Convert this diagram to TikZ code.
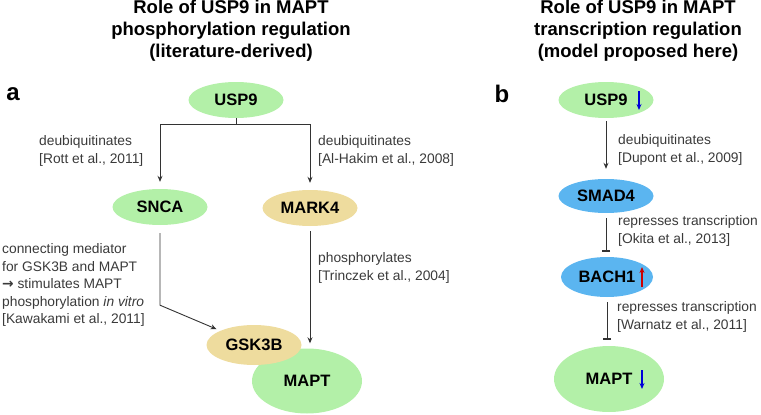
\documentclass[tikz,border=0pt]{standalone}
\usepackage{fontspec}
\setmainfont{Liberation Sans}
\newfontfamily\arrowfont{DejaVu Sans}
\usepackage{tikz}
\usetikzlibrary{arrows.meta,calc,positioning,shapes.geometric}
\usepackage{xcolor}

\definecolor{protgreen}{HTML}{B3F0A8}
\definecolor{prottan}{HTML}{EEDC9E}
\definecolor{protblue}{HTML}{5BB5F0}
\definecolor{labelgray}{HTML}{3A3A3A}
\definecolor{linegray}{HTML}{333333}

\tikzset{
  prot/.style={ellipse,inner sep=0pt,minimum width=95pt,minimum height=36pt,
    font=\fontsize{16.5}{18}\selectfont\bfseries},
  greenprot/.style={prot,fill=protgreen},
  tanprot/.style={prot,fill=prottan},
  blueprot/.style={prot,fill=protblue},
  title/.style={align=center,font=\fontsize{18.5}{22}\selectfont\bfseries},
  panel/.style={font=\fontsize{24}{24}\selectfont\bfseries},
  lbl/.style={anchor=west,align=left,text=labelgray,inner sep=0pt,
    font=\fontsize{13.8}{17.5}\selectfont},
  act/.style={draw=linegray,line width=0.9pt,-{Stealth[length=6pt,width=5pt]}},
  inh/.style={draw=linegray,line width=0.9pt,-{Bar[width=8pt,line width=2pt]}},
  downarr/.style={draw=blue!85!black,line width=1.2pt,-{Stealth[length=6pt,width=5pt]}},
  uparr/.style={draw=red!80!black,line width=1.2pt,-{Stealth[length=6pt,width=5pt]}}
}

\begin{document}
\begin{tikzpicture}[x=1pt,y=-1pt]
\useasboundingbox (0,0) rectangle (761,415);

% panel a
\node[title] (titlea) at (231,31) {Role of USP9 in MAPT\\phosphorylation regulation\\(literature-derived)};
\node[panel] (pa) at (13,94) {a};

\node[greenprot] (usp9a) at (236,100) {USP9};
\node[greenprot] (snca) at (160,207) {SNCA};
\node[tanprot] (mark4) at (310,208) {MARK4};
\node[greenprot,minimum width=110pt,minimum height=65pt] (mapta) at (307,381) {MAPT};
\node[tanprot,minimum height=40pt] (gsk3b) at (254,345) {GSK3B};

\draw[act,shorten >=7pt] (usp9a.south) -- ++(0,6) -| (snca.north);
\draw[act,shorten >=7pt] (usp9a.south) -- ++(0,6) -| (mark4.north);
\draw[act,shorten >=4pt] ([yshift=-8pt]snca.south) -- ++(0,72) -- (gsk3b);
\draw[act,shorten >=5pt] ([yshift=-5pt]mark4.south) -- (mark4.south |- mapta.north);

\node[lbl] (lrott) at (39,151) {deubiquitinates\\{[Rott et al., 2011]}};
\node[lbl] (lhakim) at (318,151) {deubiquitinates\\{[Al-Hakim et al., 2008]}};
\node[lbl] (ltrin) at (318,268) {phosphorylates\\{[Trinczek et al., 2004]}};
\node[lbl] (lkawa) at (2,285) {connecting mediator\\for GSK3B and MAPT\\{\arrowfont\bfseries →} stimulates MAPT\\phosphorylation \textit{in vitro}\\{[Kawakami et al., 2011]}};

% panel b
\node[title] (titleb) at (638,31) {Role of USP9 in MAPT\\transcription regulation\\(model proposed here)};
\node[panel] (pb) at (502,94) {b};

\node[greenprot] (usp9b) at (606,100) {USP9};
\node[blueprot,minimum height=34pt] (smad4) at (606,196) {SMAD4};
\node[blueprot,minimum width=92pt,minimum height=40pt] (bach1) at (607,277) {BACH1};
\node[greenprot,minimum width=110pt,minimum height=66pt] (maptb) at (609,379) {MAPT};

\draw[downarr] ($(usp9b.center)+(33,-9)$) -- ++(0,19);
\draw[uparr] ($(bach1.center)+(35,10)$) -- ++(0,-20);
\draw[downarr] ($(maptb.center)+(33,-9)$) -- ++(0,19);

\draw[act,shorten >=10pt] ([yshift=-3pt]usp9b.south) -- (usp9b.south |- smad4.north);
\draw[inh,shorten >=5pt] ([yshift=-5pt]smad4.south) -- (smad4.south |- bach1.north);
\draw[inh,shorten >=6pt] ([yshift=-5pt]bach1.south) -- (bach1.south |- maptb.north);

\node[lbl] (ldupont) at (618,150) {deubiquitinates\\{[Dupont et al., 2009]}};
\node[lbl] (lokita) at (618,231) {represses transcription\\{[Okita et al., 2013]}};
\node[lbl] (lwarn) at (617,317) {represses transcription\\{[Warnatz et al., 2011]}};
\end{tikzpicture}
\end{document}
